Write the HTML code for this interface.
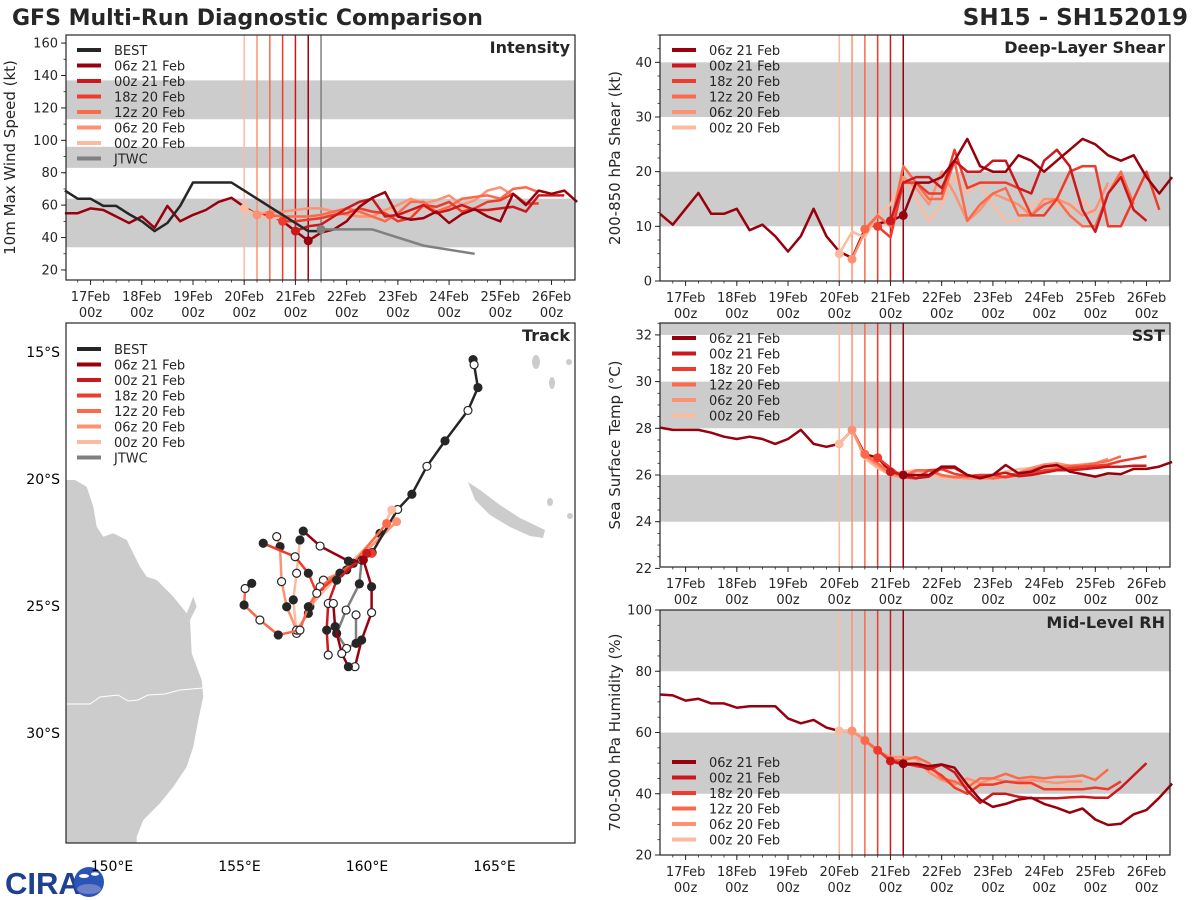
<!DOCTYPE html>
<html><head><meta charset="utf-8"><title>GFS Multi-Run Diagnostic Comparison</title>
<style>
html,body{margin:0;padding:0;background:#fff;}
svg{display:block;font-family:"DejaVu Sans","Liberation Sans",sans-serif;}
</style></head>
<body>
<svg id="chart" width="1200" height="900" viewBox="0 0 1200 900" xmlns="http://www.w3.org/2000/svg">
<rect width="1200" height="900" fill="#fff"/>
<text x="12" y="25" font-size="22" font-weight="bold" fill="#262626">GFS Multi-Run Diagnostic Comparison</text>
<text x="1188" y="25" font-size="23" font-weight="bold" fill="#262626" text-anchor="end">SH15 - SH152019</text>
<g>
<text x="5" y="894" font-size="31" font-weight="bold" fill="#1f3f8f" font-family="Liberation Sans, sans-serif">CIRA</text>
<circle cx="89" cy="882" r="15" fill="#2a55b8"/>
<ellipse cx="89" cy="889" rx="12" ry="5" fill="#6d7fc7"/>
<ellipse cx="84" cy="876" rx="5" ry="2" fill="#fff"/>
<ellipse cx="95" cy="874" rx="4" ry="1.8" fill="#fff"/>
</g>
</svg>
<script>
// ---------- DATA ----------
const runLabels = ['00z 20 Feb','06z 20 Feb','12z 20 Feb','18z 20 Feb','00z 21 Feb','06z 21 Feb'];
const runInitHours = [72,78,84,90,96,102];
const dayLabels = ['17Feb','18Feb','19Feb','20Feb','21Feb','22Feb','23Feb','24Feb','25Feb','26Feb'];
const historyStartHour = -12;

// Intensity (kt)
const bestIntensity = [69,64,64,59.5,59.5,54.5,50,44,49,59.5,74,74,74,74,69,64,59,54,49,44,44];
const histIntensity = [55,55,58,57,53,49,53,46,59.5,50,54,57,62,64.5,59,54,54,50,44,38];
const intRun00z20 = [58,54,52,52,53,53,54,54,55,54,52,57,56,55,58,56,57,58,57,56,56];
const intRun06z20 = [54,56,56,57,58,58,56,54,53,53,57,60,64,61,63,66,60,63,69,71,66];
const intRun12z20 = [54,53,53,53,54,56,58,56,53,50,55,62,62,56,59,64,65,66,64,70,71,68];
const intRun18z20 = [50,50,51,52,54,55,58,56,55,50,52,60,59,62,56,58,62,63,67,61,61];
const intRun00z21 = [44,47,48,53,58,62,64,53,54,57,60,55,57,60,57,57,58,59,56,66,66,66];
const intRun06z21 = [38,43,45,50,59,64.5,68,53,51,52,56,49,54.5,57.5,53,50,67,60,69,67,69,62];
const jtwcHours = [108,132,156,180];
const jtwcIntensity = [45,45,35,30];

// Shear (kt)
const histShear = [12.3,10.3,13.2,16.1,12.3,12.3,13.2,9.3,10.3,8.2,5.4,8.2,13.2,8.2,5.4,4.2,9.5,10.5,11,12];
const shrRun00z20 = [5,9,8,12,14,19,15,11,14,19,16,18,14,11,11,14,15,14,13,15,12];
const shrRun06z20 = [4,9,12,10,19,17,14,20,16,11,13,16,15,14,12,15,15,14,12,13,18];
const shrRun12z20 = [9.5,12,10,21,18,15,15,22,11,14,16,17,12,12,14,15,12,10,10,16,20,14];
const shrRun18z20 = [10,8,18,18,16,16,24,17,18,18,18,17,12,12,15,20,21,21,10,10,15,20,13];
const shrRun00z21 = [11,18,19,19,17,22,20,20,22,22,17,16,22,24,21,13,9,16,19,13,11];
const shrRun06z21 = [12,18,18,19,22,26,21,20,20,23,22,20,22,24,26,25,23,22,23,19,16,19];

// SST (C)
const histSST = [28.03,27.93,27.93,27.93,27.81,27.64,27.54,27.64,27.54,27.33,27.54,27.93,27.33,27.21,27.33,27.93,26.89,26.74,26.14,26.0];
const sstRun00z20 = [27.33,27.93,26.7,26.3,26.0,26.15,26.2,26.0,25.9,25.85,25.9,25.9,26.0,26.15,26.25,26.3,26.3,26.35,26.3,26.4];
const sstRun06z20 = [27.93,26.8,26.4,26.0,25.9,26.15,26.2,25.95,25.9,25.85,25.85,25.85,25.9,26.1,26.3,26.45,26.5,26.4,26.45,26.5,26.7];
const sstRun12z20 = [26.89,26.5,26.1,25.95,26.2,26.2,26.0,25.9,25.95,26.0,25.85,25.95,26.1,26.2,26.4,26.35,26.4,26.4,26.5,26.6,26.8];
const sstRun18z20 = [26.74,26.3,25.9,25.85,26.2,26.25,26.05,25.95,26.0,26.0,25.9,26.0,26.1,26.2,26.25,26.3,26.35,26.4,26.45,26.6,26.7,26.8];
const sstRun00z21 = [26.14,26.0,25.86,25.93,26.3,26.3,26.0,25.9,26.0,26.1,25.95,26.0,26.1,26.2,26.2,26.25,26.3,26.35,26.35,26.4,26.4];
const sstRun06z21 = [26.0,26.0,26.0,26.36,26.36,26.0,25.86,26.0,26.43,26.07,26.14,26.36,26.43,26.14,26.04,25.93,26.07,26.04,26.26,26.26,26.36,26.56];

// Mid-level RH (%)
const histRH = [72.4,72.1,70.4,71.0,69.5,69.5,68.1,68.6,68.6,68.6,64.6,63.0,64.1,61.6,60.5,60.5,57.4,54.2,50.7,49.8];
const rhRun00z20 = [60.5,60.5,57,54,52,52,50,48,46,44,44,42,44,42,42,43,42,42,43,43];
const rhRun06z20 = [60.5,57.4,54,52,52,51.5,47,44.5,43,45,43.5,45,44,44,44.5,44,43.5,44,44];
const rhRun12z20 = [57.4,54,51,51,52,50,45,44,42,45,45,46.5,45,45.5,45,45.5,45.5,46,44.5,48];
const rhRun18z20 = [54.2,51,50,49,48.5,46,42,40,43,43,44,43.5,43.5,41.5,41.5,41.5,41.5,42,41.5,44];
const rhRun00z21 = [50.7,49.5,49.5,48,49.5,47,41,37,40,40,39,38.5,38.5,38.5,38.8,39,38.7,38.7,42,46,50];
const rhRun06z21 = [49.8,49.8,49,49.6,48.5,43,38.1,35.7,36.7,38.1,38.7,36.7,35.4,33.8,35.2,31.6,29.8,30.2,33.3,34.7,38.7,43.3];

// Track (deg E, deg S)
const bestLon = [164.16,164.2,164.35,163.96,163.06,162.35,161.76,161.2,160.2,159.8];
const bestLat = [15.3,15.5,16.4,17.3,18.5,19.5,20.6,21.2,22.9,23.2];
const trkLon00z20 = [160.97,160.51,158.94,157.76,157.24,157.11,157.24,157.37];
const trkLat00z20 = [21.22,22.14,23.71,25.03,26.08,24.76,23.71,22.40];
const trkLon06z20 = [161.16,159.20,158.29,157.70,157.24,156.85,156.65,156.59,156.46];
const trkLat06z20 = [21.68,23.58,23.98,25.29,25.95,25.03,24.04,22.66,22.27];
const trkLon12z20 = [160.77,159.46,158.16,157.70,157.37,156.52,155.80,155.18,155.22,155.48];
const trkLat12z20 = [21.75,23.32,24.24,25.03,25.95,26.14,25.55,24.96,24.31,24.11];
const trkLon18z20 = [160.18,158.94,158.03,157.70,157.18,155.93];
const trkLat18z20 = [22.93,23.71,24.50,23.71,23.06,22.53];
const trkLon00z21 = [159.99,158.81,158.48,158.42,158.48];
const trkLat00z21 = [22.93,23.98,24.90,25.95,26.93];
const trkLon06z21 = [159.86,160.18,160.18,159.79,159.53,159.27,159.01,158.75,158.68];
const trkLat06z21 = [23.19,24.24,25.26,26.34,27.39,27.39,26.87,25.81,24.90];
const trkLon06z21b = [159.79,159.27,158.16,157.50];
const trkLat06z21b = [23.23,23.23,22.64,22.05];
const jtwcLon = [159.79,159.70,159.18,158.81,159.20,159.57,159.57];
const jtwcLat = [23.23,24.13,25.16,26.08,26.67,26.47,25.35];

// ---------- DRAWING ----------
const NS='http://www.w3.org/2000/svg';
const svg=document.getElementById('chart');
const runColors=['#fcbba1','#fc9272','#fb6a4a','#ef3b2c','#cb181d','#99000d'];
function mk(tag,attrs,parent){const e=document.createElementNS(NS,tag);for(const k in attrs)e.setAttribute(k,attrs[k]);(parent||svg).appendChild(e);return e;}
function txt(s,attrs,parent){const e=mk('text',attrs,parent);e.textContent=s;return e;}

function makePanel(c){
  const g=mk('g',{});
  
  
  const X=h=>c.x0+(h-c.hmin)/(c.hmax-c.hmin)*(c.x1-c.x0);
  const Y=v=>c.y1-(v-c.vmin)/(c.vmax-c.vmin)*(c.y1-c.y0);
  c.bands.forEach(b=>{
    const y1=Y(Math.min(b[1],c.vmax)),y0=Y(b[0]);
    const r=mk('rect',{x:c.x0,y:y1,width:c.x1-c.x0,height:y0-y1,fill:'#cccccc'},g);
    
    
  });
  for(let v=c.minorStart;v<=c.vmax+1e-6;v+=c.minor){
    if(v<c.vmin-1e-6)continue;
    mk('line',{x1:c.x0-2.5,x2:c.x0,y1:Y(v),y2:Y(v),stroke:'#262626','stroke-width':0.8},g);
  }
  c.yticks.forEach(v=>{
    mk('line',{x1:c.x0-5,x2:c.x0,y1:Y(v),y2:Y(v),stroke:'#262626','stroke-width':1},g);
    const t=txt(String(v),{x:c.x0-8,y:Y(v)+4.5,'font-size':13,fill:'#262626','text-anchor':'end'},g);
    
    
  });
  for(let h=-6;h<=c.hmax;h+=6){ if(h<c.hmin)continue;
    mk('line',{x1:X(h),x2:X(h),y1:c.y1,y2:c.y1+2.5,stroke:'#262626','stroke-width':0.8},g);}
  dayLabels.forEach((d,i)=>{const h=i*24,x=X(h);
    mk('line',{x1:x,x2:x,y1:c.y1,y2:c.y1+5,stroke:'#262626','stroke-width':1},g);
    const t=txt(d,{x:x,y:c.y1+21,'font-size':13,fill:'#262626','text-anchor':'middle'},g);
    
    
    const t2=txt('00z',{x:x,y:c.y1+37,'font-size':13,fill:'#262626','text-anchor':'middle'},g);
    
    
  });
  const yl=txt(c.ylabel,{x:0,y:0,'font-size':15,fill:'#262626','text-anchor':'middle',transform:`translate(${c.ylabX},${(c.y0+c.y1)/2}) rotate(-90)`},g);
  
  
  runInitHours.forEach((h,i)=>{
    const l=mk('line',{x1:X(h),x2:X(h),y1:c.y0,y2:c.y1,stroke:runColors[i],'stroke-width':1.5},g);
    
    
  });
  if(c.jtwcLine){const l=mk('line',{x1:X(jtwcHours[0]),x2:X(jtwcHours[0]),y1:c.y0,y2:c.y1,stroke:'#808080','stroke-width':1.5},g);
    
    }
  function series(h0,vals,color,name,w){
    const pts=vals.map((v,i)=>X(h0+i*6).toFixed(1)+','+Y(v).toFixed(1)).join(' ');
    const p=mk('polyline',{points:pts,fill:'none',stroke:color,'stroke-width':w||2.5,'stroke-linejoin':'round'},g);
    
    
  }
  c.draw(series,X,Y,g);
  c.runs.forEach((r,i)=>{
    const m=mk('circle',{cx:X(runInitHours[i]),cy:Y(r[0]),r:4.5,fill:runColors[i]},g);
    
    
  });
  if(c.jtwcLine){const m=mk('circle',{cx:X(jtwcHours[0]),cy:Y(jtwcIntensity[0]),r:4.5,fill:'#808080'},g);
    
    }
  const fr=mk('rect',{x:c.x0,y:c.y0,width:c.x1-c.x0,height:c.y1-c.y0,fill:'none',stroke:'#262626','stroke-width':1.2},g);
  
  
  const pt=txt(c.title,{x:c.x1-5,y:c.y0+18,'font-size':16,'font-weight':'bold',fill:'#262626','text-anchor':'end'},g);
  
  
  drawLegend(g,c.legendX,c.legendY,c.legend);
}
function drawLegend(g,x,y,items){
  const lg=mk('g',{},g);
  
  
  items.forEach((it,i)=>{
    const yy=y+i*15.5;
    const e=mk('g',{},lg);
    
    
    mk('line',{x1:x,x2:x+24,y1:yy,y2:yy,stroke:it[1],'stroke-width':4},e);
    txt(it[0],{x:x+37,y:yy+5,'font-size':13,fill:'#262626'},e);
  });
}
const runLegend=runLabels.map((l,i)=>[l,runColors[i]]).reverse();

function drawRuns(runs){return (series)=>{
  runs.forEach((r,i)=>series(runInitHours[i],r,runColors[i],'series-'+runLabels[i].replace(/ /g,'-').toLowerCase()));
};}

const intRuns=[intRun00z20,intRun06z20,intRun12z20,intRun18z20,intRun00z21,intRun06z21];
makePanel({name:'intensity-panel',x0:66,x1:575,y0:35,y1:280,hmin:-11.5,hmax:227,vmin:13.8,vmax:165,
  bands:[[34,64],[83,96],[113,137]],yticks:[20,40,60,80,100,120,140,160],minor:10,minorStart:20,
  ylabel:'10m Max Wind Speed (kt)',ylabX:15,title:'Intensity',jtwcLine:true,runs:intRuns,
  legendX:77,legendY:50,legend:[['BEST','#262626']].concat(runLegend,[['JTWC','#808080']]),
  draw:(series,X,Y,g)=>{
    series(historyStartHour,histIntensity,'#99000d','history-intensity');
    drawRuns(intRuns)(series);
    series(historyStartHour,bestIntensity,'#262626','best-intensity');
    const pts=jtwcHours.map((h,i)=>X(h).toFixed(1)+','+Y(jtwcIntensity[i]).toFixed(1)).join(' ');
    const p=mk('polyline',{points:pts,fill:'none',stroke:'#808080','stroke-width':2.5},g);
    
    
  }});

const shrRuns=[shrRun00z20,shrRun06z20,shrRun12z20,shrRun18z20,shrRun00z21,shrRun06z21];
makePanel({name:'shear-panel',x0:660,x1:1170,y0:35,y1:281,hmin:-12,hmax:227,vmin:0,vmax:45,
  bands:[[10,20],[30,40]],yticks:[0,10,20,30,40],minor:2.5,minorStart:0,
  ylabel:'200-850 hPa Shear (kt)',ylabX:620,title:'Deep-Layer Shear',runs:shrRuns,
  legendX:672,legendY:50,legend:runLegend,
  draw:(series)=>{series(historyStartHour,histShear,'#99000d','history-shear');drawRuns(shrRuns)(series);}});

const sstRuns=[sstRun00z20,sstRun06z20,sstRun12z20,sstRun18z20,sstRun00z21,sstRun06z21];
makePanel({name:'sst-panel',x0:660,x1:1170,y0:323,y1:567,hmin:-12,hmax:227,vmin:22.06,vmax:32.51,
  bands:[[24,26],[28,30],[32,33]],yticks:[22,24,26,28,30,32],minor:0.5,minorStart:22,
  ylabel:'Sea Surface Temp (°C)',ylabX:620,title:'SST',runs:sstRuns,
  legendX:672,legendY:338,legend:runLegend,
  draw:(series)=>{series(historyStartHour,histSST,'#99000d','history-sst');drawRuns(sstRuns)(series);}});

const rhRuns=[rhRun00z20,rhRun06z20,rhRun12z20,rhRun18z20,rhRun00z21,rhRun06z21];
makePanel({name:'rh-panel',x0:660,x1:1170,y0:610,y1:855,hmin:-12,hmax:227,vmin:20,vmax:100,
  bands:[[40,60],[80,100]],yticks:[20,40,60,80,100],minor:5,minorStart:20,
  ylabel:'700-500 hPa Humidity (%)',ylabX:620,title:'Mid-Level RH',runs:rhRuns,
  legendX:672,legendY:762,legend:runLegend,
  draw:(series)=>{series(historyStartHour,histRH,'#99000d','history-rh');drawRuns(rhRuns)(series);}});

// ---------- TRACK MAP ----------
(function(){
  const g=mk('g',{});
  
  
  const x0=66,x1=575,y0=323,y1=843;
  const LX=lon=>112+(lon-150)*25.5;
  const LY=lat=>352+(lat-15)*25.4;
  const clip=mk('clipPath',{id:'mapclip'},g);
  mk('rect',{x:x0,y:y0,width:x1-x0,height:y1-y0},clip);
  const land=mk('g',{'clip-path':'url(#mapclip)'},g);
  
  
  mk('polygon',{fill:'#cccccc',points:'60,480 75,480 86.7,486.7 93.3,506.7 96.7,526.7 103.3,536.7 113.3,533.3 126.7,540 133.3,553.3 140,566.7 146.7,576.7 156.7,580 166.7,590 173.3,596.7 186.7,613.3 193.3,596.7 196.7,606.7 190,620 191.7,653.3 196.7,666.7 201.7,680 203.3,696.7 198.3,720 193.3,746.7 186.7,766.7 173.3,786.7 160,803.3 143.3,820 136.7,836.7 136.7,850 60,850'},land);
  mk('polyline',{points:'66,704 90,704 100,697 118,695 128,701 138,700 148,695 165,694 180,690 203,688',fill:'none',stroke:'#fff','stroke-width':1},land);
  mk('polygon',{fill:'#cccccc',points:'468,482 480,490 500,505 520,518 545,530 543,538 530,536 510,527 490,515 475,500'},land);
  mk('ellipse',{cx:536,cy:362,rx:4,ry:7,fill:'#cccccc'},land);
  mk('ellipse',{cx:552,cy:383,rx:3,ry:6,fill:'#cccccc'},land);
  mk('ellipse',{cx:569,cy:362,rx:3,ry:3,fill:'#cccccc'},land);
  mk('ellipse',{cx:570,cy:516,rx:3,ry:3,fill:'#cccccc'},land);
  mk('ellipse',{cx:550,cy:502,rx:3,ry:4,fill:'#cccccc'},land);

  function track(lons,lats,color,name,markers){
    const pts=lons.map((l,i)=>LX(l).toFixed(1)+','+LY(lats[i]).toFixed(1)).join(' ');
    const p=mk('polyline',{points:pts,fill:'none',stroke:color,'stroke-width':2.5,'stroke-linejoin':'round'},g);
    
    
    if(markers){lons.forEach((l,i)=>{ if(i===0)return;
      const m=mk('circle',{cx:LX(l),cy:LY(lats[i]),r:4,fill:i%2?'#262626':'#ffffff',stroke:'#262626','stroke-width':1.2},g);
      
      
    });}
  }
  const trk=[[trkLon00z20,trkLat00z20],[trkLon06z20,trkLat06z20],[trkLon12z20,trkLat12z20],[trkLon18z20,trkLat18z20],[trkLon00z21,trkLat00z21],[trkLon06z21,trkLat06z21]];
  track(jtwcLon,jtwcLat,'#808080','jtwc-track',true);
  trk.forEach((t,i)=>track(t[0],t[1],runColors[i],'track-'+runLabels[i].replace(/ /g,'-').toLowerCase(),true));
  track(trkLon06z21b,trkLat06z21b,'#99000d','track-06z-21-feb-branch',true);
  track(bestLon,bestLat,'#262626','best-track',false);
  bestLon.forEach((l,i)=>{
    const m=mk('circle',{cx:LX(l),cy:LY(bestLat[i]),r:4,fill:i%2?'#ffffff':'#262626',stroke:'#262626','stroke-width':1.2},g);
    
    
  });
  trk.forEach((t,i)=>{
    const m=mk('circle',{cx:LX(t[0][0]),cy:LY(t[1][0]),r:4.5,fill:runColors[i]},g);
    
    
  });
  const fr=mk('rect',{x:x0,y:y0,width:x1-x0,height:y1-y0,fill:'none',stroke:'#262626','stroke-width':1.2},g);
  
  
  [150,155,160,165].forEach(l=>{
    const t=txt(l+'°E',{x:LX(l),y:871,'font-size':14,fill:'#000','text-anchor':'middle'},g);
    
    
  });
  [15,20,25,30].forEach(l=>{
    const t=txt(l+'°S',{x:60,y:LY(l)+5,'font-size':14,fill:'#000','text-anchor':'end'},g);
    
    
  });
  const pt=txt('Track',{x:x1-5,y:y0+18,'font-size':16,'font-weight':'bold',fill:'#262626','text-anchor':'end'},g);
  
  
  drawLegend(g,77,349,[['BEST','#262626']].concat(runLegend,[['JTWC','#808080']]));
})();
</script>
</body></html>
